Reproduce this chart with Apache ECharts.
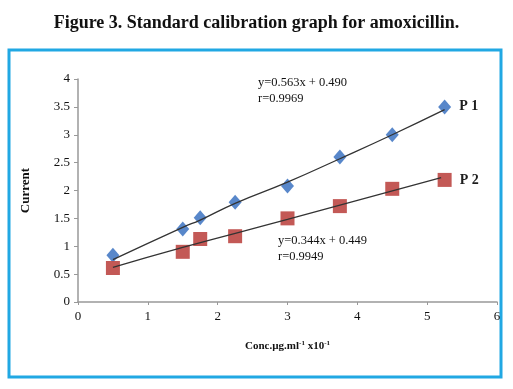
<!DOCTYPE html>
<html><head><meta charset="utf-8">
<script src="https://cdn.jsdelivr.net/npm/echarts@6/dist/echarts.min.js"></script>
<style>html,body{margin:0;padding:0;background:#fff}#c{width:513px;height:389px}</style>
</head><body><div id="c"></div>
<script>
// Data
var concX = [0.5, 1.5, 1.75, 2.25, 3.0, 3.75, 4.5, 5.25];
var p1Current = [0.84, 1.31, 1.51, 1.79, 2.08, 2.60, 3.00, 3.50];
var p2Current = [0.61, 0.90, 1.13, 1.18, 1.50, 1.72, 2.03, 2.19];
// Trend lines as drawn in the picture
var p1TrendX = [0.5, 1.5, 1.75, 2.25, 3.0, 3.75, 4.5, 5.25];
var p1TrendY = [0.76, 1.34, 1.47, 1.77, 2.15, 2.57, 3.00, 3.45];
var p2TrendX = [0.5, 1.5, 3.0, 5.2];
var p2TrendY = [0.62, 0.98, 1.48, 2.23];
var xTicks = ['0', '1', '2', '3', '4', '5', '6'];
var yTicks = ['0', '0.5', '1', '1.5', '2', '2.5', '3', '3.5', '4'];
var seriesNames = ['P 1', 'P 2'];
var eq1 = ['y=0.563x + 0.490', 'r=0.9969'];
var eq2 = ['y=0.344x + 0.449', 'r=0.9949'];

function pairs(xs, ys, lastLabel) {
  return xs.map(function (x, i) {
    var d = { value: [x, ys[i]] };
    if (lastLabel && i === xs.length - 1) {
      d.label = { show: true, formatter: lastLabel, position: 'right', distance: 8,
        fontFamily: 'Liberation Serif', fontWeight: 'bold', fontSize: 14, color: '#111' };
    }
    return d;
  });
}

var serif = 'Liberation Serif';
var chart = echarts.init(document.getElementById('c'), null, { renderer: 'canvas' });
chart.setOption({
  animation: false,
  backgroundColor: '#fff',
  title: {
    text: 'Figure 3. Standard calibration graph for amoxicillin.',
    left: 'center', top: 9,
    textStyle: { fontFamily: serif, fontWeight: 'bold', fontSize: 18, color: '#111' }
  },
  graphic: [
    { type: 'rect', shape: { x: 9, y: 50, width: 492, height: 327 },
      style: { fill: 'none', stroke: '#21a8e3', lineWidth: 3 }, z: -1 },
    { type: 'text', left: 258, top: 75, style: { text: eq1.join('\n'), fontFamily: serif, fontSize: 12.5, lineHeight: 16, fill: '#111' } },
    { type: 'text', left: 278, top: 233, style: { text: eq2.join('\n'), fontFamily: serif, fontSize: 12.5, lineHeight: 16, fill: '#111' } }
  ],
  grid: { left: 78, right: 16, top: 79, bottom: 87 },
  xAxis: {
    type: 'value', min: 0, max: 6, interval: 1,
    name: 'Conc.µg.ml{s|-1} x10{s|-1}', nameLocation: 'middle', nameGap: 38,
    nameTextStyle: { fontFamily: serif, fontWeight: 'bold', fontSize: 11, color: '#111',
      rich: { s: { fontFamily: serif, fontWeight: 'bold', fontSize: 7, color: '#111', padding: [0, 0, 6, 0] } } },
    axisLine: { lineStyle: { color: '#999', width: 1.5 } },
    axisTick: { show: true, length: 3, lineStyle: { color: '#999' } },
    axisLabel: { fontFamily: serif, fontSize: 13, color: '#111', margin: 8,
      formatter: function (v) { return xTicks[Math.round(v)]; } },
    splitLine: { show: false }
  },
  yAxis: {
    type: 'value', min: 0, max: 4, interval: 0.5,
    name: 'Current', nameLocation: 'middle', nameGap: 46, nameRotate: 90,
    nameTextStyle: { fontFamily: serif, fontWeight: 'bold', fontSize: 13, color: '#111' },
    axisLine: { show: true, lineStyle: { color: '#999', width: 1.5 } },
    axisTick: { show: true, length: 4, lineStyle: { color: '#999' } },
    axisLabel: { fontFamily: serif, fontSize: 13, color: '#111', margin: 8,
      formatter: function (v) { return yTicks[Math.round(v * 2)]; } },
    splitLine: { show: false }
  },
  series: [
    { name: seriesNames[0] + ' trend', type: 'line', data: pairs(p1TrendX, p1TrendY), smooth: true,
      symbol: 'none', lineStyle: { color: '#333', width: 1.3 }, z: 3 },
    { name: seriesNames[1] + ' trend', type: 'line', data: pairs(p2TrendX, p2TrendY), smooth: true,
      symbol: 'none', lineStyle: { color: '#333', width: 1.3 }, z: 3 },
    { name: seriesNames[0], type: 'scatter', data: pairs(concX, p1Current, seriesNames[0]),
      symbol: 'diamond', symbolSize: [13, 15], itemStyle: { color: '#4f81c7', opacity: 0.95 }, z: 2 },
    { name: seriesNames[1], type: 'scatter', data: pairs(concX, p2Current, seriesNames[1]),
      symbol: 'rect', symbolSize: 14, itemStyle: { color: '#c0504d', opacity: 0.95 }, z: 2 }
  ]
});
</script></body></html>
